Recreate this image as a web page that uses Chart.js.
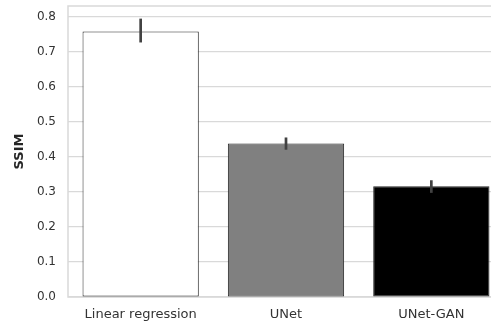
<!DOCTYPE html>
<html>
<head>
<meta charset="utf-8">
<script src="https://cdn.jsdelivr.net/npm/chart.js@4/dist/chart.umd.min.js"></script>
<style>
  html, body { margin: 0; padding: 0; background: #fff; overflow: hidden; }
  #wrap { position: relative; width: 510px; height: 327px; }
</style>
</head>
<body>
<div id="wrap"><canvas id="c"></canvas></div>
<script>
// Mean SSIM per model with confidence interval bounds
const categories = ['Linear regression', 'UNet', 'UNet-GAN'];
const ssimMean = [0.757, 0.438, 0.316];
const ssimLow  = [0.726, 0.420, 0.297];
const ssimHigh = [0.794, 0.455, 0.333];
const barColors = ['#ffffff', '#808080', '#000000'];
const yTicks = [0.0, 0.1, 0.2, 0.3, 0.4, 0.5, 0.6, 0.7, 0.8];

const FONT = "'DejaVu Sans', sans-serif";
const TEXT = '#333333';
const GRID = '#d9d9d9';

// Vertical error bars drawn on top of the bars
const errorBars = {
  id: 'errorBars',
  afterDatasetsDraw(chart) {
    const ctx = chart.ctx;
    const x = chart.scales.x, y = chart.scales.y;
    ctx.save();
    ctx.strokeStyle = '#424242';
    ctx.lineWidth = 2.7;
    ctx.lineCap = 'butt';
    categories.forEach((c, i) => {
      const px = x.getPixelForValue(i);
      ctx.beginPath();
      ctx.moveTo(px, y.getPixelForValue(ssimLow[i]));
      ctx.lineTo(px, y.getPixelForValue(ssimHigh[i]));
      ctx.stroke();
    });
    ctx.restore();
  }
};

// Light frame around the plotting area
const frame = {
  id: 'frame',
  beforeDatasetsDraw(chart) {
    const a = chart.chartArea, ctx = chart.ctx;
    ctx.save();
    ctx.strokeStyle = GRID;
    ctx.lineWidth = 1.5;
    ctx.strokeRect(a.left, a.top, a.right - a.left, a.bottom - a.top);
    ctx.restore();
  }
};

new Chart(document.getElementById('c'), {
  type: 'bar',
  data: {
    labels: categories,
    datasets: [{
      data: ssimMean,
      backgroundColor: barColors,
      borderColor: '#262626',
      borderWidth: 1,
      borderSkipped: false,
      categoryPercentage: 1.0,
      barPercentage: 0.8
    }]
  },
  options: {
    responsive: true,
    maintainAspectRatio: false,
    animation: false,
    layout: { padding: { top: 6, right: 6, left: 0, bottom: 0 } },
    plugins: { legend: { display: false }, tooltip: { enabled: false } },
    scales: {
      x: {
        offset: true,
        grid: { display: false, drawTicks: false },
        border: { display: false },
        ticks: { color: TEXT, font: { family: FONT, size: 13 }, padding: 10, maxRotation: 0 },
        afterFit(s) { s.height = 30; s.paddingLeft = 0; s.paddingRight = 0; }
      },
      y: {
        min: 0,
        max: 0.83,
        grid: { color: GRID, lineWidth: 1.2, drawTicks: false },
        border: { display: false },
        afterBuildTicks(s) { s.ticks = yTicks.map(v => ({ value: v })); },
        ticks: {
          color: TEXT,
          font: { family: FONT, size: 12 },
          padding: 12,
          callback: v => Number(v).toFixed(1)
        },
        title: {
          display: true,
          text: 'SSIM',
          color: '#262626',
          font: { family: FONT, size: 13, weight: 'bold' },
          padding: { top: 12, bottom: 0 }
        },
        afterFit(s) { s.width = 68; s.paddingTop = 0; s.paddingBottom = 0; }
      }
    }
  },
  plugins: [frame, errorBars]
});
</script>
</body>
</html>
